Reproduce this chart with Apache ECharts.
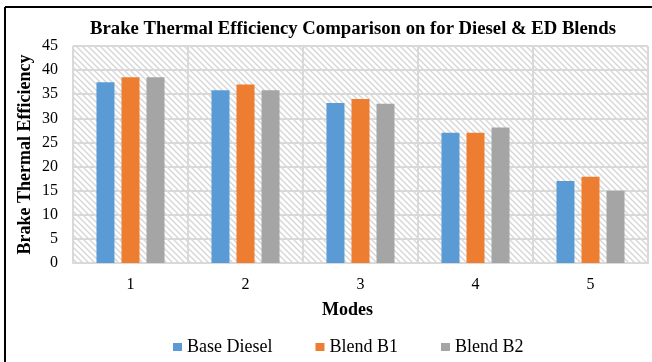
<!DOCTYPE html>
<html>
<head>
<meta charset="utf-8">
<script src="https://cdn.jsdelivr.net/npm/echarts@6/dist/echarts.min.js"></script>
<style>html,body{margin:0;padding:0;background:#fff}#c{width:652px;height:362px}</style>
</head>
<body>
<div id="c"></div>
<script>
var categories = ['1', '2', '3', '4', '5'];
var baseDiesel = [37.5, 35.8, 33.2, 27.0, 17.0];
var blendB1 = [38.5, 37.0, 34.0, 27.0, 17.9];
var blendB2 = [38.5, 35.8, 33.0, 28.1, 15.0];
var seriesNames = ['Base Diesel', 'Blend B1', 'Blend B2'];
var yTicks = { min: 0, max: 45, interval: 5 };

var pc = document.createElement('canvas');
pc.width = 6; pc.height = 6;
var g = pc.getContext('2d');
g.fillStyle = '#ffffff'; g.fillRect(0, 0, 6, 6);
g.strokeStyle = '#d6d6d6'; g.lineWidth = 1.4;
g.beginPath();
g.moveTo(-1, -1); g.lineTo(7, 7);
g.moveTo(-1, 5); g.lineTo(1, 7);
g.moveTo(5, -1); g.lineTo(7, 1);
g.stroke();

var font = '"Liberation Serif", "Times New Roman", serif';
var chart = echarts.init(document.getElementById('c'));
chart.setOption({
  animation: false,
  backgroundColor: '#ffffff',
  textStyle: { fontFamily: font },
  title: {
    text: 'Brake Thermal Efficiency Comparison on for Diesel & ED Blends',
    left: 348, top: 15, textAlign: 'center',
    textStyle: { fontFamily: font, fontSize: 18.7, fontWeight: 'bold', color: '#000' }
  },
  legend: {
    data: seriesNames,
    top: 333, left: 168,
    icon: 'rect', itemWidth: 9, itemHeight: 8, itemGap: 43,
    textStyle: { fontFamily: font, fontSize: 18, color: '#000' }
  },
  grid: {
    left: 73, right: 4, top: 46, bottom: 99,
    show: true,
    backgroundColor: { image: pc, repeat: 'repeat' },
    borderColor: '#d9d9d9', borderWidth: 1
  },
  xAxis: {
    type: 'category', data: categories,
    name: 'Modes', nameLocation: 'middle', nameGap: 38,
    nameTextStyle: { fontFamily: font, fontSize: 18, fontWeight: 'bold', color: '#000', padding: [0, 26, 0, 0] },
    axisLine: { lineStyle: { color: '#d9d9d9', width: 2 } },
    axisTick: { show: false },
    axisLabel: { fontFamily: font, fontSize: 16, color: '#000', margin: 14 },
    splitLine: { show: true, lineStyle: { color: '#d9d9d9', width: 2 } }
  },
  yAxis: {
    type: 'value', min: yTicks.min, max: yTicks.max, interval: yTicks.interval,
    name: 'Brake Thermal Efficiency', nameLocation: 'middle', nameGap: 39,
    nameMoveOverlap: false,
    nameTextStyle: { fontFamily: font, fontSize: 18, fontWeight: 'bold', color: '#000' },
    axisLine: { show: false }, axisTick: { show: false },
    axisLabel: { fontFamily: font, fontSize: 16, color: '#000', margin: 15 },
    splitLine: { lineStyle: { color: '#d9d9d9', width: 2 } }
  },
  series: [
    { name: seriesNames[0], type: 'bar', data: baseDiesel, barWidth: 18, barGap: '39%', itemStyle: { color: '#5b9bd5' } },
    { name: seriesNames[1], type: 'bar', data: blendB1, barWidth: 18, barGap: '39%', itemStyle: { color: '#ed7d31' } },
    { name: seriesNames[2], type: 'bar', data: blendB2, barWidth: 18, barGap: '39%', itemStyle: { color: '#a5a5a5' } }
  ],
  graphic: [
    { type: 'line', shape: { x1: 5, y1: 7, x2: 652, y2: 7 }, style: { stroke: '#000', lineWidth: 2 } },
    { type: 'line', shape: { x1: 5, y1: 7, x2: 5, y2: 362 }, style: { stroke: '#000', lineWidth: 2 } }
  ]
});
</script>
</body>
</html>
